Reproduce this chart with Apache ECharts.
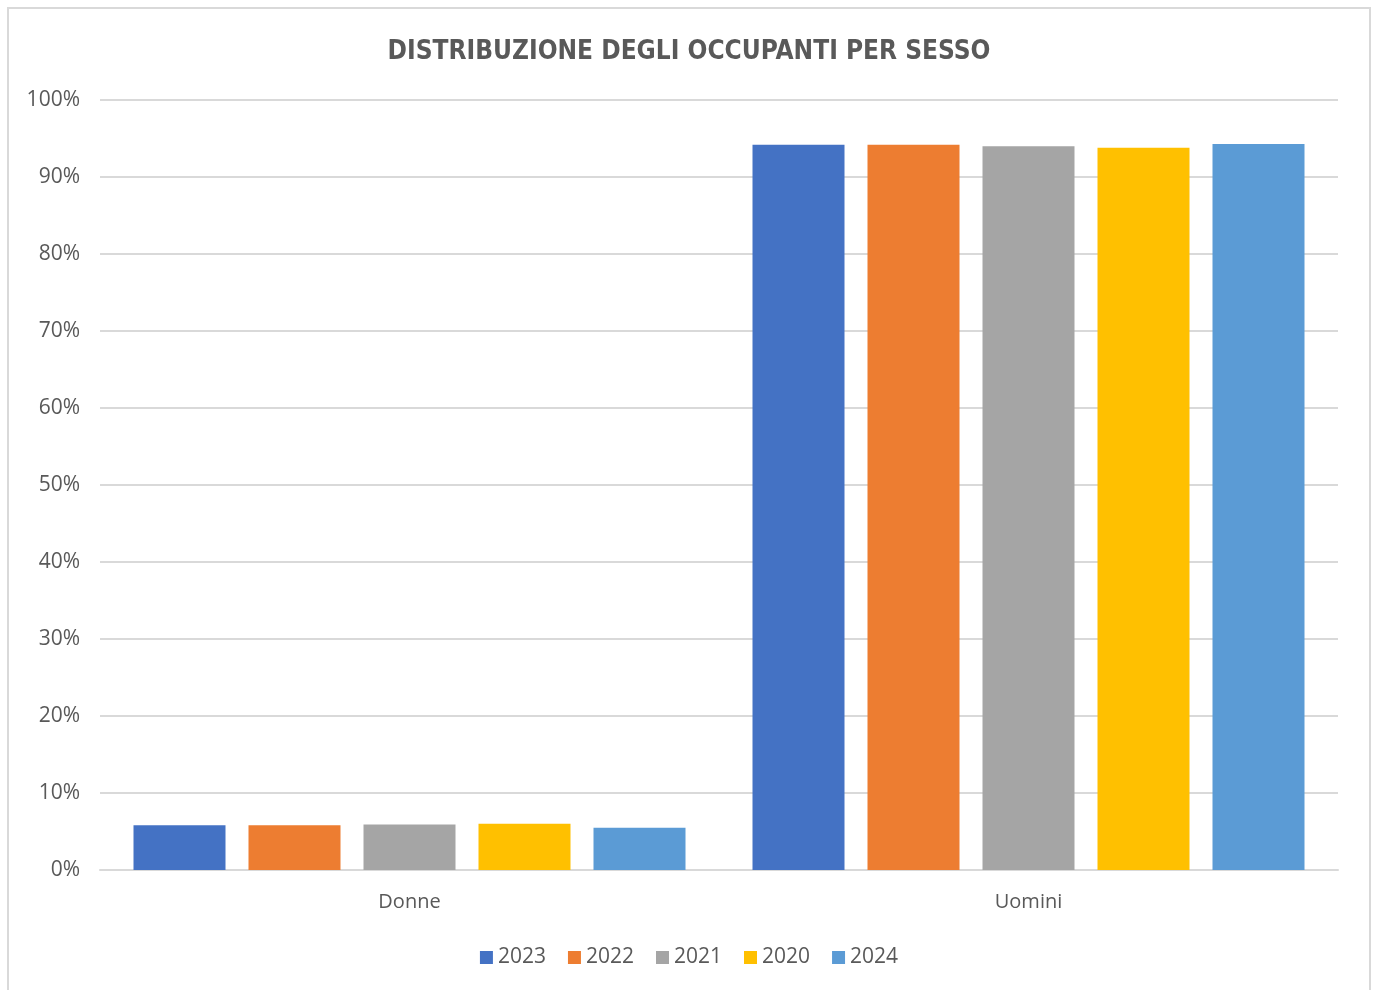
<!DOCTYPE html>
<html>
<head>
<meta charset="utf-8">
<script src="https://cdn.jsdelivr.net/npm/echarts@6/dist/echarts.min.js"></script>
<style>
  html, body { margin: 0; padding: 0; background: #fff; }
  #frame { position: absolute; left: 7px; top: 7px; width: 1364px; height: 990px; border: 2px solid #d9d9d9; box-sizing: border-box; }
  #chart { position: absolute; left: 0; top: 0; width: 1378px; height: 990px; }
</style>
</head>
<body>
<div id="frame"></div>
<div id="chart"></div>
<script>
// categorie e serie (percentuali)
const categories = ['Donne', 'Uomini'];
const years = ['2023', '2022', '2021', '2020', '2024'];
const colors = ['#4472c4', '#ed7d31', '#a5a5a5', '#ffc000', '#5b9bd5'];
const values2023 = [5.8, 94.2];
const values2022 = [5.8, 94.2];
const values2021 = [5.9, 94.0];
const values2020 = [6.0, 93.8];
const values2024 = [5.5, 94.3];
const seriesValues = [values2023, values2022, values2021, values2020, values2024];

const font = "'Open Sans', 'Noto Sans', sans-serif";
const chart = echarts.init(document.getElementById('chart'));

chart.setOption({
  animation: false,
  title: {
    text: 'DISTRIBUZIONE DEGLI OCCUPANTI PER SESSO',
    left: 'center',
    top: 34,
    textStyle: { fontFamily: "'DejaVu Sans Condensed', sans-serif", fontSize: 26, fontWeight: 'bold', color: '#595959' }
  },
  legend: {
    bottom: 17,
    left: 'center',
    itemWidth: 13,
    itemHeight: 13,
    itemGap: 22,
    icon: 'rect',
    textStyle: { fontFamily: font, fontSize: 21, color: '#595959' },
    data: years
  },
  grid: { left: 100, right: 40, top: 100, bottom: 120, containLabel: false },
  xAxis: {
    type: 'category',
    data: categories,
    axisLine: { lineStyle: { color: '#d9d9d9', width: 2 } },
    axisTick: { show: false },
    axisLabel: { fontFamily: font, fontSize: 20, color: '#595959', margin: 22 }
  },
  yAxis: {
    type: 'value',
    min: 0,
    max: 100,
    interval: 10,
    axisLine: { show: false },
    axisTick: { show: false },
    splitLine: { lineStyle: { color: '#d9d9d9', width: 2 } },
    axisLabel: { fontFamily: font, fontSize: 21, color: '#595959', margin: 20, formatter: '{value}%' }
  },
  series: years.map((y, i) => ({
    name: y,
    type: 'bar',
    data: seriesValues[i],
    barWidth: 92,
    barGap: '25%',
    itemStyle: { color: colors[i] }
  }))
});
</script>
</body>
</html>
